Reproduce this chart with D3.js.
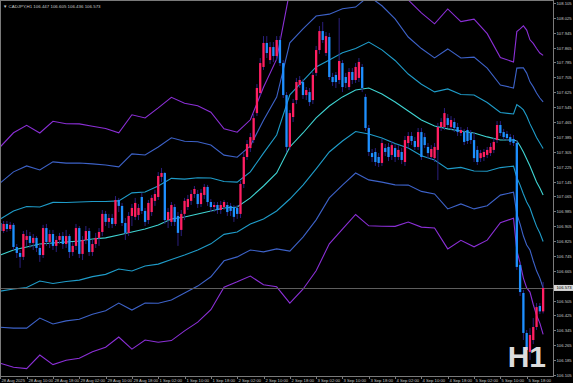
<!DOCTYPE html>
<html><head><meta charset="utf-8">
<script src="https://cdn.jsdelivr.net/npm/d3@7/dist/d3.min.js"></script>
<style>html,body{margin:0;padding:0;background:#000;}svg{display:block;}</style>
</head><body>
<script>
// ---------- data (CADJPY H1) ----------
const symbolTitle = "CADJPY,H1";
const lastQuote = ["106.447", "106.605", "106.436", "106.573"];
const currentPrice = 106.573;
const timeframeLabel = "H1";

const openP = [106.922,106.879,106.917,106.890,106.912,106.793,106.761,106.740,106.831,106.852,
106.815,106.842,106.788,106.750,106.895,106.820,106.863,106.799,106.831,106.852,
106.809,106.852,106.766,106.799,106.895,106.756,106.831,106.879,106.766,106.809,
106.842,106.874,106.971,106.928,106.949,106.917,107.046,107.014,106.922,106.869,
106.960,106.955,106.965,107.062,106.987,106.938,106.981,107.041,107.062,107.170,
107.191,106.938,106.928,107.008,106.960,106.885,106.971,107.008,107.041,107.078,
107.078,107.024,107.073,107.116,107.035,107.008,107.019,106.992,107.008,107.019,
107.014,107.008,107.003,106.971,107.132,107.277,107.325,107.368,107.513,107.621,
107.761,107.890,107.798,107.868,107.820,107.906,107.782,107.610,107.331,107.492,
107.583,107.664,107.680,107.610,107.626,107.583,107.729,107.852,107.954,107.836,
107.922,107.707,107.718,107.691,107.782,107.707,107.653,107.734,107.691,107.702,
107.761,107.600,107.433,107.298,107.304,107.277,107.245,107.325,107.331,107.288,
107.325,107.277,107.304,107.250,107.352,107.390,107.363,107.331,107.411,107.384,
107.331,107.277,107.271,107.315,107.438,107.438,107.486,107.438,107.465,107.438,
107.406,107.411,107.422,107.406,107.368,107.315,107.271,107.277,107.288,107.298,
107.315,107.368,107.449,107.411,107.401,107.384,107.374,107.352,106.697,106.546,
106.331,106.229,106.293,106.363,106.476,106.447];
const highP = [106.938,106.933,106.933,106.928,106.922,106.809,106.777,106.879,106.885,106.874,
106.863,106.852,106.809,106.912,106.917,106.885,106.885,106.852,106.869,106.874,
106.885,106.863,106.820,106.917,106.906,106.852,106.906,106.895,106.831,106.869,
106.895,106.992,106.987,106.971,106.971,107.067,107.057,107.030,106.949,106.981,
107.024,107.057,107.024,107.084,107.003,107.046,107.073,107.100,107.196,107.218,
107.196,107.003,107.035,107.024,106.981,106.992,107.057,107.073,107.100,107.121,
107.100,107.105,107.132,107.127,107.051,107.035,107.035,107.041,107.046,107.035,
107.030,107.019,107.019,107.148,107.298,107.368,107.406,107.508,107.669,107.809,
107.927,107.927,107.895,107.895,107.927,107.927,107.798,107.626,107.530,107.589,
107.702,107.712,107.696,107.653,107.648,107.734,107.874,107.981,108.003,107.949,
107.944,107.729,107.734,108.024,107.798,107.729,107.755,107.755,107.782,107.809,
107.777,107.616,107.449,107.320,107.325,107.298,107.374,107.347,107.352,107.363,
107.347,107.341,107.325,107.390,107.411,107.411,107.384,107.433,107.433,107.406,
107.352,107.341,107.352,107.460,107.486,107.540,107.508,107.497,107.486,107.460,
107.438,107.428,107.438,107.422,107.411,107.336,107.315,107.320,107.331,107.352,
107.379,107.470,107.470,107.428,107.417,107.401,107.395,107.368,106.713,106.562,
106.347,106.357,106.411,106.492,106.492,106.605];
const lowP = [106.858,106.869,106.874,106.879,106.777,106.734,106.681,106.723,106.799,106.788,
106.777,106.766,106.713,106.734,106.799,106.788,106.777,106.766,106.809,106.783,
106.788,106.734,106.745,106.777,106.734,106.723,106.809,106.745,106.745,106.788,
106.799,106.852,106.906,106.895,106.895,106.906,106.981,106.906,106.831,106.852,
106.906,106.938,106.938,106.971,106.906,106.917,106.960,107.014,107.046,107.143,
106.917,106.895,106.906,106.906,106.799,106.852,106.938,106.992,107.019,107.057,
107.003,107.008,107.051,107.014,106.981,106.981,106.971,106.971,106.992,106.960,
106.960,106.928,106.944,106.949,107.110,107.261,107.304,107.352,107.497,107.605,
107.745,107.809,107.777,107.788,107.798,107.766,107.594,107.304,107.315,107.465,
107.562,107.648,107.589,107.583,107.551,107.562,107.712,107.831,107.890,107.820,
107.691,107.659,107.648,107.669,107.626,107.648,107.637,107.669,107.675,107.680,
107.626,107.417,107.282,107.250,107.229,107.223,107.229,107.282,107.255,107.261,
107.250,107.261,107.239,107.229,107.325,107.341,107.315,107.315,107.261,107.325,
107.271,107.261,107.250,107.153,107.417,107.422,107.433,107.422,107.411,107.390,
107.390,107.341,107.347,107.347,107.250,107.234,107.250,107.255,107.271,107.282,
107.298,107.352,107.390,107.368,107.363,107.341,107.336,106.670,106.530,106.293,
106.148,106.186,106.271,106.347,106.433,106.436];
const closeP = [106.879,106.917,106.890,106.912,106.793,106.761,106.740,106.863,106.852,106.815,
106.842,106.788,106.750,106.895,106.820,106.863,106.799,106.831,106.852,106.809,
106.852,106.766,106.799,106.895,106.756,106.831,106.879,106.766,106.809,106.842,
106.874,106.971,106.928,106.949,106.917,107.046,107.014,106.922,106.869,106.960,
107.003,107.030,107.003,106.987,106.928,107.030,107.057,107.078,107.175,107.191,
106.938,106.981,107.019,106.928,106.869,106.971,107.041,107.051,107.078,107.105,
107.024,107.084,107.116,107.035,107.008,107.019,106.992,107.019,107.035,106.981,
106.987,106.955,106.971,107.132,107.277,107.347,107.384,107.486,107.648,107.782,
107.890,107.836,107.868,107.820,107.906,107.782,107.610,107.331,107.513,107.567,
107.680,107.691,107.610,107.637,107.572,107.718,107.852,107.954,107.906,107.927,
107.707,107.680,107.680,107.793,107.653,107.675,107.734,107.691,107.761,107.788,
107.648,107.433,107.304,107.277,107.250,107.245,107.352,107.304,107.277,107.341,
107.277,107.315,107.261,107.368,107.390,107.363,107.331,107.411,107.277,107.341,
107.298,107.320,107.331,107.438,107.465,107.513,107.449,107.476,107.433,107.411,
107.422,107.358,107.363,107.368,107.271,107.250,107.298,107.304,107.315,107.331,
107.358,107.449,107.406,107.384,107.379,107.358,107.352,106.686,106.551,106.331,
106.239,106.320,106.363,106.470,106.447,106.573];

// Bollinger-style envelope: centre line and one band step, read at these bars
const bandBars = [0,4,8,12,16,20,24,28,32,36,40,44,48,52,56,60,64,68,72,76,
80,84,88,92,96,100,104,108,112,116,120,124,128,132,136,140,144,148,152,156,
157,158,159,160,161,162,163,164,165];
const bandMid = [106.750,106.777,106.793,106.809,106.815,106.820,106.825,106.836,106.842,106.858,
106.874,106.890,106.911,106.944,106.954,106.971,106.987,107.003,107.008,107.057,
107.121,107.191,107.331,107.406,107.487,107.551,107.600,107.637,107.648,107.616,
107.573,107.524,107.476,107.444,107.428,107.417,107.406,107.385,107.368,107.368,
107.363,107.336,107.304,107.266,107.229,107.186,107.143,107.110,107.073];
const bandDev = [0.194,0.210,0.218,0.199,0.218,0.212,0.210,0.202,0.196,0.183,
0.210,0.199,0.210,0.218,0.204,0.194,0.177,0.142,0.134,0.140,
0.177,0.204,0.280,0.280,0.274,0.247,0.237,0.223,0.247,0.237,
0.223,0.199,0.192,0.183,0.215,0.196,0.204,0.185,0.148,0.140,
0.196,0.210,0.226,0.231,0.226,0.234,0.239,0.242,0.250];
const bandMultipliers = [3, 2, 1, 0, -1, -2, -3];

const priceTicks = [108.105,108.025,107.945,107.865,107.785,107.705,107.625,107.545,107.465,
107.385,107.305,107.225,107.145,107.065,106.985,106.905,106.825,106.745,106.665,106.585,
106.505,106.425,106.345,106.265,106.185,106.105];
const timeTickBars = [0,8,16,24,32,40,48,56,64,72,80,88,96,104,112,120,128,136,144,152,160];
const timeTickLabels = ["28 Aug 2025","28 Aug 10:00","28 Aug 18:00","29 Aug 02:00","29 Aug 10:00",
"29 Aug 18:00","1 Sep 02:00","1 Sep 10:00","1 Sep 18:00","2 Sep 02:00","2 Sep 10:00",
"2 Sep 18:00","3 Sep 02:00","3 Sep 10:00","3 Sep 18:00","4 Sep 02:00","4 Sep 10:00",
"4 Sep 18:00","5 Sep 02:00","5 Sep 10:00","5 Sep 18:00"];

// ---------- styles ----------
const W = 573, H = 383, plotW = 553, plotH = 376;
const bandColor = {3:"#8b2fd6", 2:"#3d62c8", 1:"#1f9cc9", 0:"#3fd4d2"};
const upColor = "#ff1f62", downColor = "#1e90ff", wickColor = "#2b1f7e";
const textColor = "#c8c8c8", frameColor = "#7a7a7a";
const fontFam = "'Liberation Sans', Arial, sans-serif";

const svg = d3.select("body").append("svg").attr("width", W).attr("height", H)
  .style("background", "#000");

const x = d3.scaleLinear().domain([-0.1, 168]).range([0, plotW]);
const y = d3.scaleLinear().domain([106.0996, 108.121]).range([plotH, 0]);

svg.append("clipPath").attr("id", "clip").append("rect")
  .attr("x", 0).attr("y", 0).attr("width", plotW).attr("height", plotH);
const plot = svg.append("g").attr("clip-path", "url(#clip)");

// bands
const bandData = bandBars.map((b, i) => ({bar: b, mid: bandMid[i], dev: bandDev[i]}));
bandMultipliers.forEach(k => {
  const line = d3.line().x(d => x(d.bar)).y(d => y(d.mid + k * d.dev));
  plot.append("path").datum(bandData).attr("d", line)
    .attr("fill", "none").attr("stroke", bandColor[Math.abs(k)]).attr("stroke-width", 1.1);
});

// current price line
plot.append("line").attr("x1", 0).attr("x2", plotW)
  .attr("y1", Math.round(y(currentPrice)) + 0.5).attr("y2", Math.round(y(currentPrice)) + 0.5)
  .attr("stroke", "#5e5e5e").attr("stroke-width", 1);

// candles
const candles = closeP.map((c, i) => ({i, o: openP[i], h: highP[i], l: lowP[i], c}));
const bodyW = 2.3;
plot.selectAll(".wick").data(candles).enter().append("line")
  .attr("x1", d => x(d.i)).attr("x2", d => x(d.i))
  .attr("y1", d => y(d.h)).attr("y2", d => y(d.l))
  .attr("stroke", wickColor).attr("stroke-width", 1);
plot.selectAll(".body").data(candles).enter().append("rect")
  .attr("x", d => x(d.i) - bodyW / 2).attr("width", bodyW)
  .attr("y", d => y(Math.max(d.o, d.c)))
  .attr("height", d => Math.max(1, Math.abs(y(d.o) - y(d.c))))
  .attr("fill", d => d.c >= d.o ? upColor : downColor);

// frame
svg.append("line").attr("x1", 0.5).attr("x2", 0.5).attr("y1", 0).attr("y2", plotH).attr("stroke", frameColor);
svg.append("line").attr("x1", 0).attr("x2", plotW).attr("y1", 0.5).attr("y2", 0.5).attr("stroke", frameColor);
svg.append("line").attr("x1", plotW + 0.5).attr("x2", plotW + 0.5).attr("y1", 0).attr("y2", plotH + 1).attr("stroke", frameColor);
svg.append("line").attr("x1", 0).attr("x2", plotW + 1).attr("y1", plotH + 0.5).attr("y2", plotH + 0.5).attr("stroke", frameColor);

// right price axis
const yAxis = svg.append("g");
priceTicks.forEach(p => {
  const yy = Math.round(y(p)) + 0.5;
  yAxis.append("line").attr("x1", plotW).attr("x2", plotW + 3).attr("y1", yy).attr("y2", yy).attr("stroke", frameColor);
  yAxis.append("text").attr("x", plotW + 3.5).attr("y", yy).attr("dy", "0.35em")
    .attr("font-family", fontFam).attr("font-size", 4.2).attr("fill", textColor).text(p.toFixed(3));
});
// current price tag
const cy = y(currentPrice);
svg.append("rect").attr("x", plotW + 1).attr("y", cy - 3).attr("width", 19).attr("height", 6).attr("fill", "#d8d8d8");
svg.append("text").attr("x", plotW + 3.5).attr("y", cy).attr("dy", "0.35em")
  .attr("font-family", fontFam).attr("font-size", 4.2).attr("fill", "#000").text(currentPrice.toFixed(3));

// bottom time axis
const xAxis = svg.append("g");
timeTickBars.forEach((b, i) => {
  const xx = Math.round(x(b)) + 0.5;
  xAxis.append("line").attr("x1", xx).attr("x2", xx).attr("y1", plotH).attr("y2", plotH + 3).attr("stroke", frameColor);
  xAxis.append("text").attr("x", xx + 1).attr("y", plotH + 5.5)
    .attr("font-family", fontFam).attr("font-size", 4.2).attr("fill", textColor).text(timeTickLabels[i]);
});

// title
svg.append("text").attr("x", 3).attr("y", 7.5).attr("font-family", fontFam).attr("font-size", 4.4)
  .attr("fill", textColor).text("\u25BC " + symbolTitle + "  " + lastQuote.join(" "));

// timeframe watermark
svg.append("text").attr("x", 546).attr("y", 367).attr("text-anchor", "end")
  .attr("font-family", fontFam).attr("font-weight", "bold").attr("font-size", 30)
  .attr("fill", "#dcdcdc").text(timeframeLabel);
</script>
</body></html>
